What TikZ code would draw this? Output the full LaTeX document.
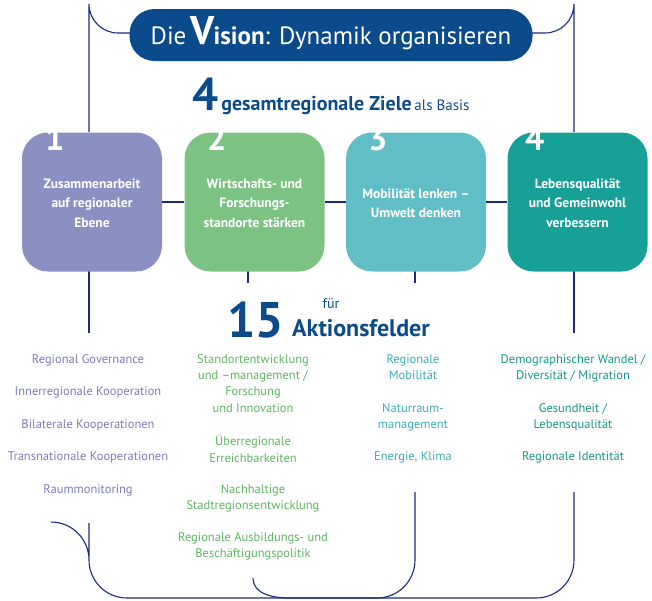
\documentclass[tikz,border=0pt]{standalone}
\usepackage{fontspec}
\setmainfont{PT Sans}
\definecolor{navy}{HTML}{1B2A80}
\definecolor{titlec}{HTML}{0B4A8B}
\definecolor{cA}{HTML}{8A90C2}
\definecolor{cB}{HTML}{7CC283}
\definecolor{cC}{HTML}{62BEC6}
\definecolor{cD}{HTML}{16A097}
\definecolor{tA}{HTML}{7A7DB8}
\definecolor{tB}{HTML}{5DB560}
\definecolor{tC}{HTML}{3AAEB8}
\definecolor{tD}{HTML}{14968E}
\begin{document}
\begin{tikzpicture}[x=1pt,y=-1pt,
  frame/.style={draw=navy,line width=1.1pt},
  goal/.style={minimum width=140pt,minimum height=139pt,rounded corners=26pt,inner sep=0pt},
  goaltxt/.style={text=white,font=\bfseries\fontsize{13.5}{19.5}\selectfont,align=center},
  num/.style={text=white,font=\bfseries\fontsize{34}{34}\selectfont,anchor=north west,inner sep=0pt},
  item/.style={font=\fontsize{12.5}{16.3}\selectfont,align=center,anchor=north,inner sep=0pt}]
\useasboundingbox (0,0) rectangle (652,600);
% frame
\draw[frame] (150,33) -- (118,33) arc[start angle=90,end angle=180,radius=29] -- (89,132);
\draw[frame] (512,33) -- (545,33) arc[start angle=90,end angle=0,radius=29] -- (574,132);
\draw[frame] (89,271) -- (89,333);
\draw[frame] (574,271) -- (574,333);
\draw[frame] (248,271) -- (248,283);
\draw[frame] (415,271) -- (415,283);
\draw[frame] (89,523) -- (89,560) arc[start angle=180,end angle=90,radius=-38] ;
\draw[frame] (89,560) to[out=-90,in=180] (127,598) -- (536,598) to[out=0,in=-90] (574,560) -- (574,492);
\draw[frame] (253,578) to[out=-90,in=180] (290,598) -- (377,598) to[out=0,in=-90] (415,560) -- (415,492);
% title
\node[fill=titlec,rounded corners=25pt,minimum width=403pt,minimum height=52pt,inner sep=0pt] (title) at (331,35) {};
\node[text=white,font=\fontsize{25}{25}\selectfont,anchor=base] (tt) at (331,44) {Die\,{\bfseries\fontsize{40}{40}\selectfont V}\kern-1pt{\bfseries ision}: Dynamik organisieren};
% heading
\node[text=titlec,anchor=base,inner sep=0pt] (h4) at (331,110) {{\bfseries\fontsize{46}{46}\selectfont 4} {\bfseries\fontsize{20}{20}\selectfont gesamtregionale Ziele} {\fontsize{15}{15}\selectfont als Basis}};
% boxes
\node[goal,fill=cA] (g1) at (92,202) {};
\node[goal,fill=cB] (g2) at (254.5,202) {};
\node[goal,fill=cC] (g3) at (416,202) {};
\node[goal,fill=cD] (g4) at (577.5,202) {};
\draw[frame] (g1.east) -- (g2.west);
\draw[frame] (g2.east) -- (g3.west);
\draw[frame] (g3.east) -- (g4.west);
\begin{scope}
\clip (0,132) rectangle (652,300);
\node[num] (n1) at (45,126) {1};
\node[num] (n2) at (207,126) {2};
\node[num] (n3) at (368,126) {3};
\node[num] (n4) at (525,126) {4};
\end{scope}
\node[goaltxt] at (92,203) {Zusammenarbeit\\auf regionaler\\Ebene};
\node[goaltxt] at (254.5,203) {Wirtschafts- und\\Forschungs-\\standorte stärken};
\node[goaltxt] at (416,203) {Mobilität lenken --\\Umwelt denken};
\node[goaltxt] at (577.5,203) {Lebensqualität\\und Gemeinwohl\\verbessern};
% 15 Aktionsfelder
\node[text=titlec,font=\bfseries\fontsize{50}{50}\selectfont,anchor=base east,inner sep=0pt] (n15) at (284,337) {15};
\node[text=titlec,font=\fontsize{14}{14}\selectfont,anchor=base,inner sep=0pt] (fur) at (331,308) {für};
\node[text=titlec,font=\bfseries\fontsize{24}{24}\selectfont,anchor=base west,inner sep=0pt] (akt) at (292,336) {Aktionsfelder};
% lists
\begin{scope}[text=tA]
\node[item] at (88,354) {Regional Governance};
\node[item] at (88,386) {Innerregionale Kooperation};
\node[item] at (88,419) {Bilaterale Kooperationen};
\node[item] at (88,451) {Transnationale Kooperationen};
\node[item] at (88,484) {Raummonitoring};
\end{scope}
\begin{scope}[text=tB]
\node[item] at (253,354) {Standortentwicklung\\und --management /\\Forschung\\und Innovation};
\node[item] at (253,435) {Überregionale\\Erreichbarkeiten};
\node[item] at (253,484) {Nachhaltige\\Stadtregionsentwicklung};
\node[item] at (253,532) {Regionale Ausbildungs- und\\Beschäftigungspolitik};
\end{scope}
\begin{scope}[text=tC]
\node[item] at (413,354) {Regionale\\Mobilität};
\node[item] at (413,403) {Naturraum-\\management};
\node[item] at (413,451) {Energie, Klima};
\end{scope}
\begin{scope}[text=tD]
\node[item] at (573,354) {Demographischer Wandel /\\Diversität / Migration};
\node[item] at (573,403) {Gesundheit /\\Lebensqualität};
\node[item] at (573,451) {Regionale Identität};
\end{scope}
\end{tikzpicture}
\end{document}
